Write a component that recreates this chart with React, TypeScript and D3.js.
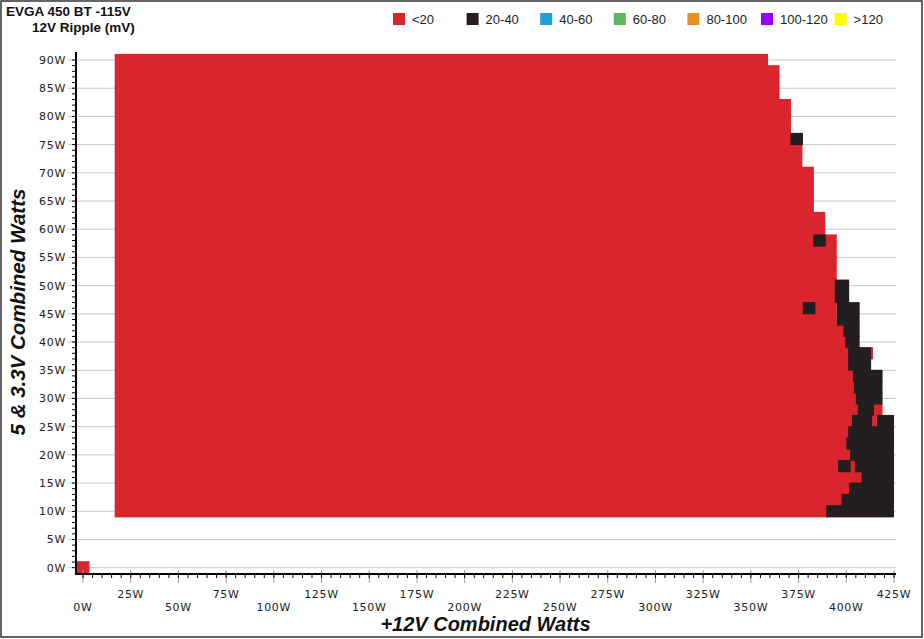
import React from "react";
import * as d3 from "d3";

const title1 = "EVGA 450 BT -115V";
const title2 = "12V Ripple (mV)";
const xTitle = "+12V Combined Watts";
const yTitle = "5 & 3.3V Combined Watts";

const legendLabels = ["<20", "20-40", "40-60", "60-80", "80-100", "100-120", ">120"];
const legendColors = ["#d9252b", "#231f20", "#1ba3d8", "#5cb85b", "#e8901f", "#9a00ff", "#ffff00"];

const xTicks = [0, 25, 50, 75, 100, 125, 150, 175, 200, 225, 250, 275, 300, 325, 350, 375, 400, 425];
const yTicks = [0, 5, 10, 15, 20, 25, 30, 35, 40, 45, 50, 55, 60, 65, 70, 75, 80, 85, 90];

// rows of 5V+3.3V load (W), top to bottom
const rowLoads = [90, 88, 86, 84, 82, 80, 78, 76, 74, 72, 70, 68, 66, 64, 62, 60, 58, 56, 54, 52, 50, 48, 46, 44, 42, 40, 38, 36, 34, 32, 30, 28, 26, 24, 22, 20, 18, 16, 14, 12, 10];
// 12V load where the "<20" zone ends on each row (W)
const redEnds = [359, 365, 365, 365, 371, 371, 371, 371, 377, 377, 383, 383, 383, 383, 389, 389, 395, 395, 395, 395, 395, 395, 395, 395, 399.5, 400.5, 414, 402, 404.5, 405, 406, 419, 416, 402, 401, 403, 405.5, 409, 402.5, 398.5, 390.5];
// "20-40" zone on each row (W)
const blackFrom = [null, null, null, null, null, null, null, null, null, null, null, null, null, null, null, null, null, null, null, null, 394, 394, 395, 395, 398.5, 399.5, 401, 401, 403.5, 404, 405, 406, 403, 401, 400, 402, 404.5, 408, 401.5, 397.5, 389.5];
const blackTo = [null, null, null, null, null, null, null, null, null, null, null, null, null, null, null, null, null, null, null, null, 401.5, 401.5, 407, 407, 407, 407, 413, 413, 419, 419, 419, 414.5, 413.5, 425, 425, 425, 425, 425, 425, 425, 425];
// extra "20-40" segments
const extraBlackRow = [26];
const extraBlackFrom = [416];
const extraBlackTo = [425];
// isolated "20-40" points (12V W, 5V W)
const isoBlackX = [374, 386, 380.5, 399];
const isoBlackY = [76, 58, 46, 18];
// isolated "<20" point
const isoRedX = [0];
const isoRedY = [0];

const W = 924;
const H = 639;
const CELL_HW = 3.3; // half width in W
const CELL_HH = 1.08; // half height in W

export default function App() {
  const x = d3.scaleLinear().domain([0, 425]).range([83, 894]);
  const y = d3.scaleLinear().domain([0, 90]).range([567.7, 60]);
  const axisX = 76;
  const axisY = 574;
  const gridRight = 896;
  const plotTop = 52;

  const minorY = d3.range(0, 91, 1);
  const minorX = d3.range(0, 426, 5);
  const tickFont = "'DejaVu Sans', Verdana, sans-serif";
  const font = "'Liberation Sans', Arial, sans-serif";

  const rowRect = (load: number, from: number, to: number, color: string, key: string) => (
    <rect
      key={key}
      x={x(from)}
      y={y(load + CELL_HH)}
      width={Math.max(0, x(to) - x(from))}
      height={y(load - CELL_HH) - y(load + CELL_HH)}
      fill={color}
    />
  );

  return (
    <svg width={W} height={H} style={{ position: "absolute", left: 0, top: 0, background: "#fff" }}>
      <rect x={0} y={0} width={W} height={H} fill="#fff" />
      {/* horizontal gridlines */}
      {yTicks.map((t) => (
        <line key={"gy" + t} x1={68} x2={gridRight} y1={y(t)} y2={y(t)} stroke="#c8c8c8" strokeWidth={1} />
      ))}
      {/* red zone */}
      {rowLoads.map((r, i) => rowRect(r, 16.6, redEnds[i], legendColors[0], "r" + i))}
      {isoRedX.map((v, i) => (
        <rect key={"ir" + i} x={x(v - 3.4)} y={y(isoRedY[i] + 1.15)} width={x(v + 3.4) - x(v - 3.4)} height={y(isoRedY[i] - 1.15) - y(isoRedY[i] + 1.15)} fill={legendColors[0]} />
      ))}
      {/* black zone */}
      {rowLoads.map((r, i) =>
        blackFrom[i] == null ? null : rowRect(r, blackFrom[i] as number, blackTo[i] as number, legendColors[1], "b" + i)
      )}
      {extraBlackRow.map((r, i) => rowRect(r, extraBlackFrom[i], extraBlackTo[i], legendColors[1], "eb" + i))}
      {isoBlackX.map((v, i) => rowRect(isoBlackY[i], v - CELL_HW, v + CELL_HW, legendColors[1], "ib" + i))}

      {/* y axis */}
      {minorY.map((t) => (
        <line key={"my" + t} x1={72} x2={axisX} y1={y(t)} y2={y(t)} stroke="#000" strokeWidth={1} />
      ))}
      <line x1={axisX} x2={axisX} y1={plotTop} y2={axisY + 1} stroke="#000" strokeWidth={2} />
      {yTicks.map((t) => (
        <text key={"yl" + t} x={66} y={y(t) + 4} textAnchor="end" fontFamily={tickFont} fontSize={11} fill="#222" letterSpacing={0.7}>
          {t + "W"}
        </text>
      ))}
      {/* x axis */}
      {xTicks.map((t) => (
        <line key={"mxt" + t} x1={x(t)} x2={x(t)} y1={570} y2={583} stroke="#a0a0a0" strokeWidth={1} />
      ))}
      {minorX.map((t) => (
        <line key={"mx" + t} x1={x(t)} x2={x(t)} y1={axisY} y2={578} stroke="#000" strokeWidth={1} />
      ))}
      <line x1={axisX - 1} x2={gridRight} y1={axisY} y2={axisY} stroke="#000" strokeWidth={2} />
      {xTicks.map((t, i) => (
        <text key={"xl" + t} x={x(t)} y={i % 2 === 1 ? 598 : 611} textAnchor="middle" fontFamily={tickFont} fontSize={11} fill="#222" letterSpacing={0.7}>
          {t + "W"}
        </text>
      ))}

      {/* titles */}
      <text x={6} y={16} fontFamily={font} fontWeight="bold" fontSize={13.5} fill="#111">{title1}</text>
      <text x={32} y={32} fontFamily={font} fontWeight="bold" fontSize={13.5} fill="#111">{title2}</text>
      <text x={485.5} y={631} textAnchor="middle" fontFamily={font} fontWeight="bold" fontStyle="italic" fontSize={20} fill="#111">{xTitle}</text>
      <text transform={`translate(25,312) rotate(-90)`} textAnchor="middle" fontFamily={font} fontWeight="bold" fontStyle="italic" fontSize={20.5} fill="#111">{yTitle}</text>

      {/* legend */}
      {legendLabels.map((l, i) => (
        <g key={"lg" + i} transform={`translate(${393 + i * 73.6},13)`}>
          <rect x={0} y={0} width={12} height={12} fill={legendColors[i]} />
          <text x={19} y={10.5} fontFamily={font} fontSize={13} fill="#222">{l}</text>
        </g>
      ))}

      {/* frame */}
      <rect x={1} y={1} width={W - 3} height={H - 3} fill="none" stroke="#333" strokeWidth={1.5} />
    </svg>
  );
}
